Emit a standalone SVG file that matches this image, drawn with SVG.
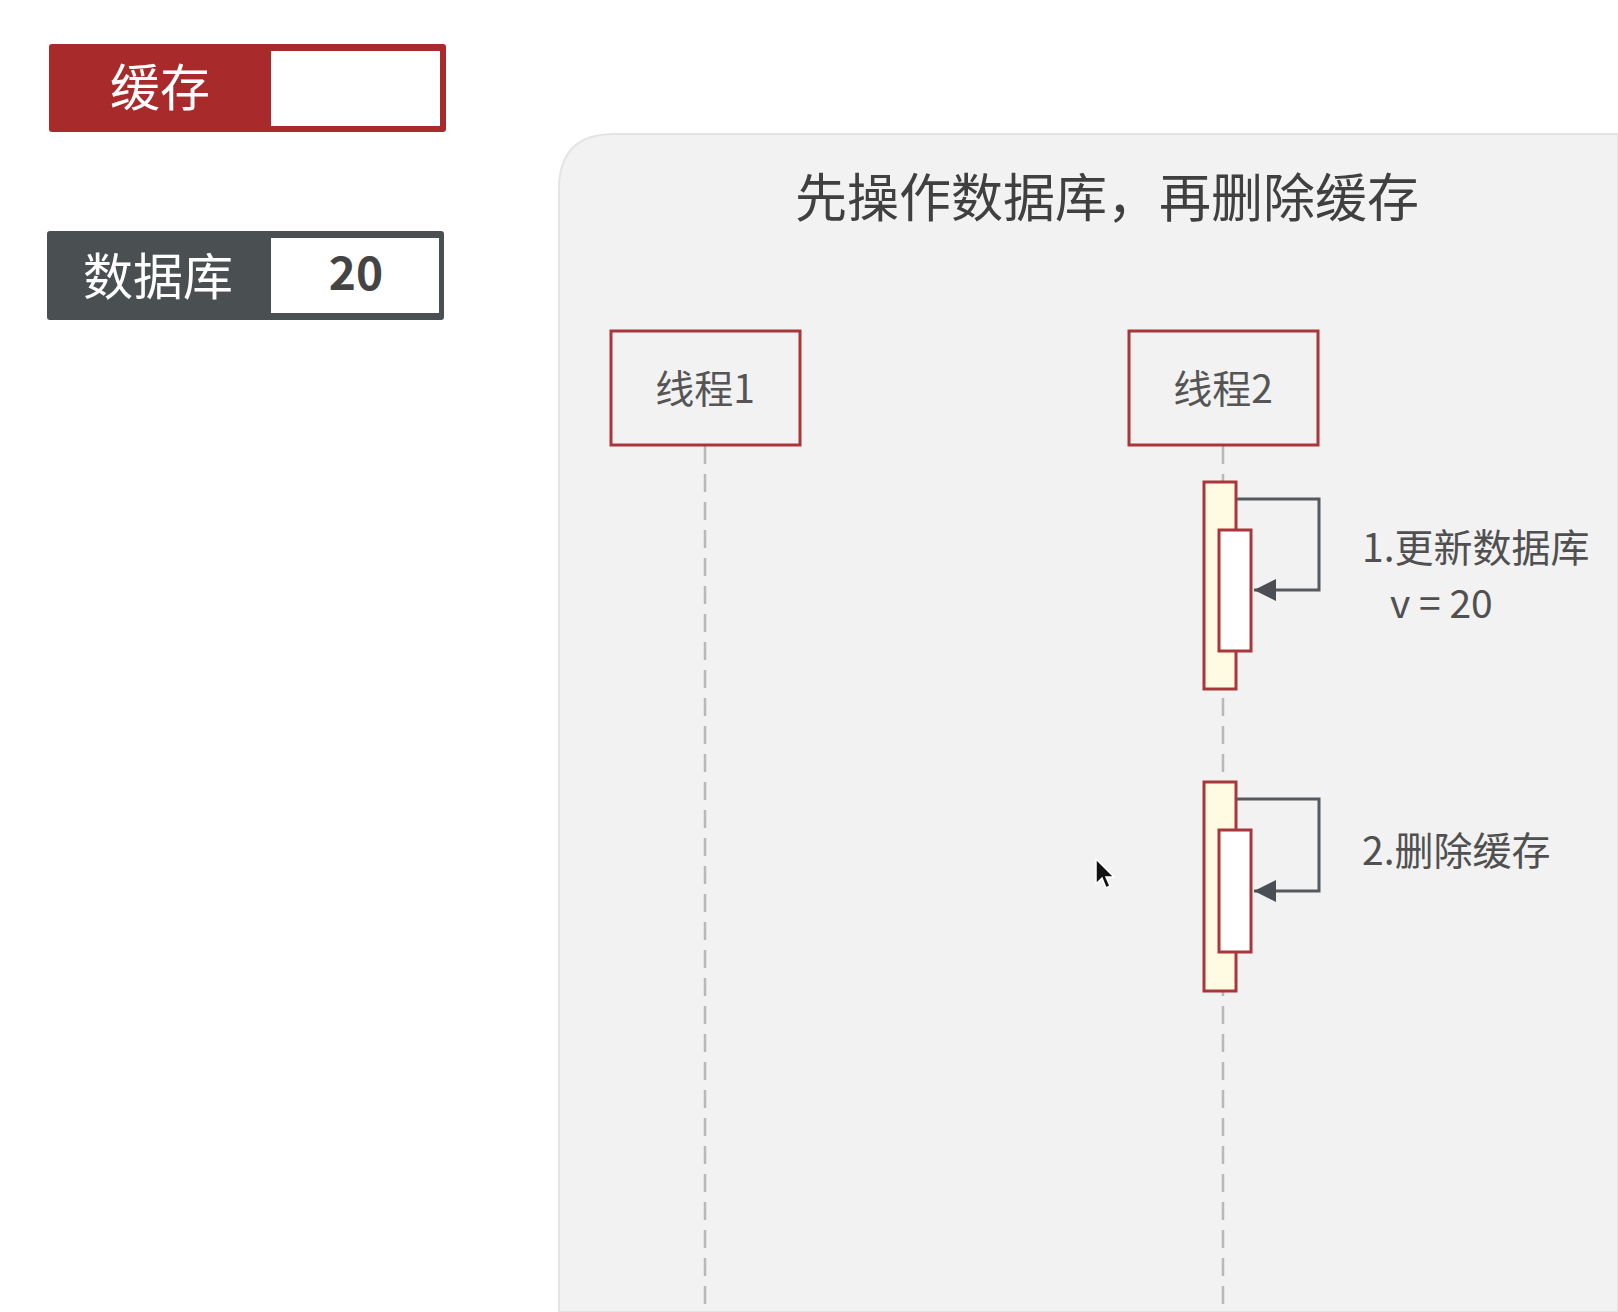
<svg xmlns="http://www.w3.org/2000/svg" width="1618" height="1312" viewBox="0 0 1618 1312">
<defs>
<style>
.cjk{font-family:"Noto Sans CJK SC","Noto Sans",sans-serif;}
.head{fill:none;stroke:#a8363a;stroke-width:3;}
.life{stroke:#b8b8b8;stroke-width:2.5;stroke-dasharray:18 10;fill:none;}
.act{fill:#fffbe3;stroke:#a8363a;stroke-width:3;}
.act2{fill:#ffffff;stroke:#a8363a;stroke-width:3;}
.msg{fill:none;stroke:#555a5e;stroke-width:3;}
.lbl{fill:#505050;font-size:39px;}
</style>
<marker id="ah" viewBox="0 0 20 20" refX="20" refY="10" markerWidth="22" markerHeight="22" markerUnits="userSpaceOnUse" orient="auto">
<path d="M0,0 L20,10 L0,20 Z" fill="#4a4f53"/>
</marker>
</defs>
<rect width="1618" height="1312" fill="#ffffff"/>

<g id="legend-cache">
<rect x="49" y="44" width="397" height="88" rx="3" fill="#a82a2a"/>
<rect x="271" y="51" width="169" height="75" fill="#ffffff"/>
<text class="cjk" x="160" y="106" font-size="50" fill="#ffffff" text-anchor="middle">缓存</text>
</g>
<g id="legend-db">
<rect x="47" y="231" width="397" height="89" rx="3" fill="#4a4f52"/>
<rect x="271" y="238" width="168" height="75" fill="#ffffff"/>
<text class="cjk" x="158" y="295" font-size="50" fill="#ffffff" text-anchor="middle">数据库</text>
<text class="cjk" x="356" y="290" font-size="46" font-weight="bold" fill="#444444" text-anchor="middle">20</text>
</g>

<g id="panel">
<path d="M559,1312 L559,189 Q559,134 614,134 L1618,134 L1618,1312 Z" fill="#f2f2f2" stroke="#e4e4e4" stroke-width="2"/>
<text class="cjk" x="1107" y="217" font-size="52" fill="#404040" text-anchor="middle">先操作数据库，再删除缓存</text>
</g>

<g id="connectors">
<line class="life" x1="705" y1="446" x2="705" y2="1312"/>
<line class="life" x1="1223" y1="446" x2="1223" y2="1312"/>
<path class="msg" d="M1236,499 L1319,499 L1319,590 L1254,590" marker-end="url(#ah)"/>
<path class="msg" d="M1236,799 L1319,799 L1319,891 L1254,891" marker-end="url(#ah)"/>
</g>

<g id="thread1">
<rect class="head" x="611" y="331" width="189" height="114"/>
<text class="cjk" x="705" y="403" font-size="39" fill="#555555" text-anchor="middle">线程1</text>
</g>
<g id="thread2">
<rect class="head" x="1129" y="331" width="189" height="114"/>
<text class="cjk" x="1223" y="403" font-size="39" fill="#555555" text-anchor="middle">线程2</text>
</g>

<g id="activation1">
<rect class="act" x="1204" y="482" width="32" height="207"/>
<rect class="act2" x="1219" y="530" width="32" height="121"/>
</g>
<g id="activation2">
<rect class="act" x="1204" y="782" width="32" height="209"/>
<rect class="act2" x="1219" y="830" width="32" height="122"/>
</g>

<g id="label1">
<text class="cjk lbl" x="1362" y="562">1.更新数据库</text>
<text class="cjk lbl" x="1390" y="618" font-size="35">v = 20</text>
</g>
<g id="label2">
<text class="cjk lbl" x="1362" y="865">2.删除缓存</text>
</g>

<g id="cursor">
<path d="M1096,859 L1096,884 L1102,878 L1106,888 L1110,886 L1106,877 L1114,877 Z" fill="#111111" stroke="#ffffff" stroke-width="1.5"/>
</g>
</svg>
